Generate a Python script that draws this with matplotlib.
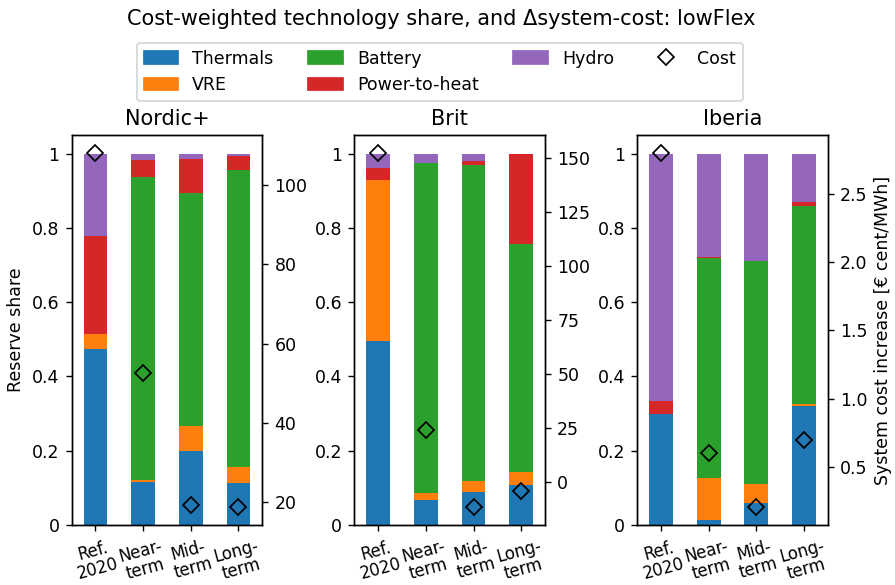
import numpy as np
import matplotlib
matplotlib.use("Agg")
import matplotlib.pyplot as plt
from matplotlib.ticker import FuncFormatter
from matplotlib.lines import Line2D

periods = ["Ref.\n2020", "Near-\nterm", "Mid-\nterm", "Long-\nterm"]
regions = ["Nordic+", "Brit", "Iberia"]
techs = ["Thermals", "VRE", "Battery", "Power-to-heat", "Hydro"]
colors = ["#1f77b4", "#ff7f0e", "#2ca02c", "#d62728", "#9467bd"]

# cost-weighted share per technology, one list per period
nordic_share = {
    "Thermals":      [0.474, 0.117, 0.199, 0.113],
    "VRE":           [0.040, 0.003, 0.067, 0.043],
    "Battery":       [0.000, 0.816, 0.627, 0.801],
    "Power-to-heat": [0.265, 0.047, 0.092, 0.037],
    "Hydro":         [0.221, 0.017, 0.015, 0.006],
}
brit_share = {
    "Thermals":      [0.495, 0.067, 0.089, 0.107],
    "VRE":           [0.433, 0.019, 0.029, 0.036],
    "Battery":       [0.000, 0.888, 0.851, 0.615],
    "Power-to-heat": [0.033, 0.000, 0.010, 0.240],
    "Hydro":         [0.039, 0.026, 0.021, 0.002],
}
iberia_share = {
    "Thermals":      [0.299, 0.013, 0.058, 0.320],
    "VRE":           [0.000, 0.113, 0.052, 0.006],
    "Battery":       [0.000, 0.592, 0.600, 0.534],
    "Power-to-heat": [0.035, 0.003, 0.000, 0.009],
    "Hydro":         [0.666, 0.279, 0.290, 0.131],
}

# system cost increase per period
nordic_cost = [108.0, 52.5, 19.4, 18.8]
brit_cost = [152.3, 23.9, -11.7, -4.3]
iberia_cost = [2.803, 0.603, 0.202, 0.698]

shares = [nordic_share, brit_share, iberia_share]
costs = [nordic_cost, brit_cost, iberia_cost]

fig, axes = plt.subplots(1, 3, figsize=(7.16, 4.68), dpi=125)
fig.subplots_adjust(left=0.080, right=0.925, bottom=0.1026, top=0.769, wspace=0.483)

x = np.arange(len(periods))
for i, ax in enumerate(axes):
    bottom = np.zeros(len(periods))
    for tech, col in zip(techs, colors):
        vals = np.array(shares[i][tech])
        ax.bar(x, vals, width=0.5, bottom=bottom, color=col, label=tech)
        bottom += vals
    ax.set_xlim(-0.5, 3.5)
    ax.set_ylim(0, 1.05)
    ax.yaxis.set_major_formatter(FuncFormatter(lambda v, p: f"{v:g}"))
    ax.set_xticks(x)
    ax.set_xticklabels(periods, rotation=15, ha="center", fontsize=9.5, linespacing=1.0)
    ax.set_title(regions[i], fontsize=12)

    ax2 = ax.twinx()
    ax2.plot(x, costs[i], linestyle="none", marker="D", markersize=6.5,
             markerfacecolor="none", markeredgecolor="black", markeredgewidth=1.0)

axes[0].set_ylabel("Reserve share")
ax2.set_ylabel("System cost increase [€ cent/MWh]")

handles = [plt.Rectangle((0, 0), 1, 1, color=c) for c in colors]
handles.append(Line2D([], [], linestyle="none", marker="D", markersize=6.5,
                      markerfacecolor="none", markeredgecolor="black", markeredgewidth=1.0))
fig.legend(handles, techs + ["Cost"], ncol=4, loc="upper center",
           bbox_to_anchor=(0.4916, 0.942), fontsize=10)
fig.suptitle("Cost-weighted technology share, and Δsystem-cost: lowFlex",
             fontsize=12, x=0.493, y=0.985)

fig.savefig("out.png", dpi=125)
